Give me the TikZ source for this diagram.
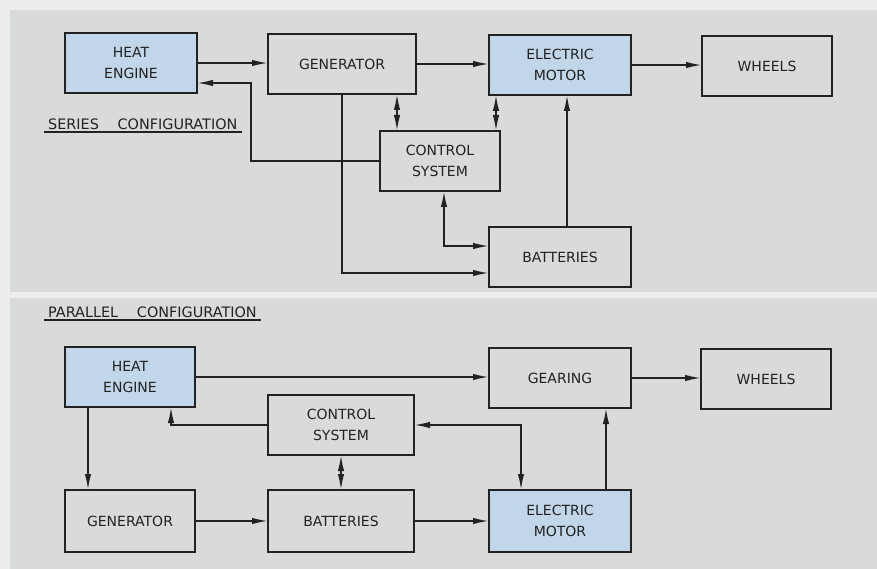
\documentclass[tikz,border=0pt]{standalone}
\usepackage{fontspec}
\setmainfont{DejaVu Sans}
\usetikzlibrary{arrows.meta,calc}
\definecolor{outerbg}{HTML}{EDEDED}
\definecolor{panelbg}{HTML}{D9DADA}
\definecolor{blockblue}{HTML}{C2D6E9}
\definecolor{ink}{HTML}{222222}
\tikzset{
  blk/.style={draw=ink, line width=1.8pt, inner sep=0pt, outer sep=0pt, align=center,
    font=\fontsize{14}{21}\selectfont, text=ink},
  plainblk/.style={blk, fill=panelbg},
  blueblk/.style={blk, fill=blockblue},
  conn/.style={draw=ink, line width=1.8pt},
  arr/.style={conn, -{Latex[length=16pt,width=6.5pt]}},
  dbl/.style={conn, {Latex[length=16pt,width=6.5pt]}-{Latex[length=16pt,width=6.5pt]}},
  cfglabel/.style={font=\fontsize{14.4}{17}\selectfont, text=ink, inner xsep=4pt, inner ysep=2pt, anchor=west},
}
\begin{document}
\begin{tikzpicture}[x=1pt,y=-1pt]
\useasboundingbox (0,0) rectangle (877,569);
\fill[outerbg] (0,0) rectangle (877,569);
\fill[panelbg] (10,10) rectangle (877,292);
\fill[panelbg] (10,298) rectangle (877,569);

% ---------- Series configuration ----------
\node[blueblk, minimum width=132pt, minimum height=60pt] (HE1) at (131,63) {HEAT\\ENGINE};
\node[plainblk, minimum width=148pt, minimum height=60pt] (GEN1) at (342,64) {GENERATOR};
\node[blueblk, minimum width=142pt, minimum height=60pt] (EM1) at (560,65) {ELECTRIC\\MOTOR};
\node[plainblk, minimum width=130pt, minimum height=60pt] (WH1) at (767,66) {WHEELS};
\node[plainblk, minimum width=120pt, minimum height=60pt] (CS1) at (440,161) {CONTROL\\SYSTEM};
\node[plainblk, minimum width=142pt, minimum height=60pt] (BAT1) at (560,257) {BATTERIES};

\node[cfglabel] (LAB1) at (44,124) {SERIES\hspace{1.3em}CONFIGURATION};
\draw[conn] (LAB1.south west) -- (LAB1.south east);

\coordinate (c1) at (251,83);
\draw[arr] (HE1.east) -- (HE1.east -| GEN1.west);
\draw[arr] (GEN1.east) -- (GEN1.east -| EM1.west);
\draw[arr] (EM1.east) -- (EM1.east -| WH1.west);
\draw[arr] (CS1.west) -| (c1) -- (c1 -| HE1.east);
\draw[dbl] ([xshift=17pt]CS1.north west) -- ([xshift=17pt]CS1.north west |- GEN1.south);
\draw[dbl] ([xshift=-4pt]CS1.north east) -- ([xshift=-4pt]CS1.north east |- EM1.south);
\draw[arr] (GEN1.south) |- ([yshift=-16pt]BAT1.west);
\draw[dbl] ([xshift=4pt]CS1.south) |- ([yshift=11pt]BAT1.west);
\draw[arr] ([xshift=7pt]BAT1.north) -- ([xshift=7pt]BAT1.north |- EM1.south);

% ---------- Parallel configuration ----------
\node[cfglabel] (LAB2) at (44,312) {PARALLEL\hspace{1.3em}CONFIGURATION};
\draw[conn] (LAB2.south west) -- (LAB2.south east);

\node[blueblk, minimum width=130pt, minimum height=60pt] (HE2) at (130,377) {HEAT\\ENGINE};
\node[plainblk, minimum width=146pt, minimum height=60pt] (CS2) at (341,425) {CONTROL\\SYSTEM};
\node[plainblk, minimum width=130pt, minimum height=62pt] (GEN2) at (130,521) {GENERATOR};
\node[plainblk, minimum width=146pt, minimum height=62pt] (BAT2) at (341,521) {BATTERIES};
\node[plainblk, minimum width=142pt, minimum height=60pt] (GEAR) at (560,378) {GEARING};
\node[plainblk, minimum width=130pt, minimum height=60pt] (WH2) at (766,379) {WHEELS};
\node[blueblk, minimum width=142pt, minimum height=62pt] (EM2) at (560,521) {ELECTRIC\\MOTOR};

\draw[arr] (HE2.east) -- (HE2.east -| GEAR.west);
\draw[arr] (GEAR.east) -- (GEAR.east -| WH2.west);
\draw[arr] ([xshift=-42pt]HE2.south) -- ([xshift=-42pt]HE2.south |- GEN2.north);
\draw[arr] (CS2.west) -| ([xshift=41pt]HE2.south);
\draw[dbl] (CS2.east) -| ([xshift=-39pt]EM2.north);
\draw[dbl] (CS2.south) -- (BAT2.north);
\draw[arr] (GEN2.east) -- (GEN2.east -| BAT2.west);
\draw[arr] (BAT2.east) -- (BAT2.east -| EM2.west);
\draw[arr] ([xshift=46pt]EM2.north) -- ([xshift=46pt]EM2.north |- GEAR.south);
\end{tikzpicture}
\end{document}
